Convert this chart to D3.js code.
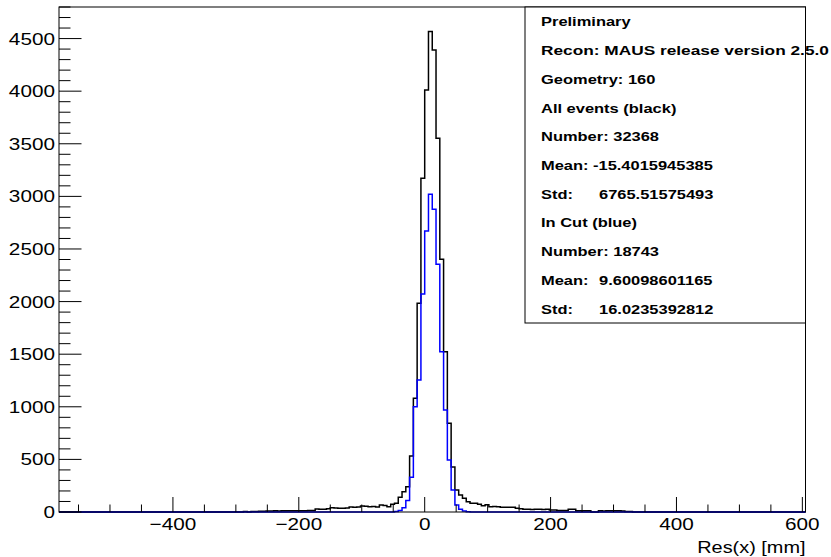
<!DOCTYPE html>
<html>
<head>
<meta charset="utf-8">
<script src="https://cdn.jsdelivr.net/npm/d3@7"></script>
<style>
  html, body { margin: 0; padding: 0; background: #fff; }
  svg { display: block; }
</style>
</head>
<body>
<svg id="chart" width="831" height="557"></svg>
<script>
// ---------------- DATA ----------------
const xLimits = [-581, 605];          // axis range (mm)
const yLimits = [0, 4800];            // axis range (counts)
const binWidth = 6;                   // mm
const histStart = -582;               // low edge of first histogram bin
const histEnd = 606;                  // high edge of last histogram bin

// All events (black): counts for bins starting at allFirstEdge
const allFirstEdge = -288;
const allCounts = [
  4, 0, 5, 4, 8, 6, 10, 10, 12, 10, 12, 11, 12, 13, 12, 13, 12, 14, 15,
  28, 27, 26, 30, 40, 38, 36, 35, 38, 47, 45, 48, 57, 55, 50, 52, 48, 66, 62, 50, 73,
  83, 140, 193, 240, 532, 1081, 1984, 3172, 4011, 4566, 4392, 3552, 2402, 1524,
  843, 428, 209, 162, 130, 98, 83, 83, 73, 60, 70, 51, 52, 50, 45, 44, 46, 45,
  35, 30, 25, 26, 24, 25, 25, 24, 25, 20, 20, 15, 15, 15, 25, 25, 12, 12, 12, 12,
  0, 0, 12, 10, 12, 12, 12, 12, 10, 5, 4, 0
];

// In cut (blue): counts for bins starting at cutFirstEdge
const cutFirstEdge = -48;
const cutCounts = [
  5, 15, 40, 110, 330, 1000, 1255, 2072, 2671, 3020, 2877, 2355, 1524,
  970, 494, 209, 67, 25, 10, 3
];

const xMajorTicks = [-400, -200, 0, 200, 400, 600];
const xTickLabels = ["\u2212400", "\u2212200", "0", "200", "400", "600"];
const yMajorTicks = [0, 500, 1000, 1500, 2000, 2500, 3000, 3500, 4000, 4500];
const yTickLabels = ["0", "500", "1000", "1500", "2000", "2500", "3000", "3500", "4000", "4500"];
const xTitle = "Res(x) [mm]";

// stats box: label column and value column (value "" = header line)
const statsLabels = [
  "Preliminary", "Recon: MAUS release version 2.5.0", "Geometry: 160",
  "All events (black)", "Number: 32368", "Mean:", "Std:",
  "In Cut (blue)", "Number: 18743", "Mean:", "Std:"
];
const statsValues = [
  "", "", "", "", "", "-15.4015945385", "6765.51575493",
  "", "", "9.60098601165", "16.0235392812"
];

// ---------------- LAYOUT ----------------
const frame = { left: 59, right: 805.5, top: 7, bottom: 512 };
const svg = d3.select("#chart");

const x = d3.scaleLinear().domain(xLimits).range([frame.left, frame.right]);
const y = d3.scaleLinear().domain(yLimits).range([frame.bottom, frame.top]);

const nBins = Math.round((histEnd - histStart) / binWidth);
function fullBins(firstEdge, counts) {
  const arr = new Array(nBins).fill(0);
  const off = Math.round((firstEdge - histStart) / binWidth);
  counts.forEach((c, i) => { arr[off + i] = c; });
  return arr.map((c, i) => ({ lo: histStart + i * binWidth, hi: histStart + (i + 1) * binWidth, c }));
}
const allBins = fullBins(allFirstEdge, allCounts);
const cutBins = fullBins(cutFirstEdge, cutCounts);

function stepPath(bins) {
  const pts = [];
  pts.push([x(bins[0].lo), y(0)]);
  bins.forEach(b => {
    pts.push([x(b.lo), y(b.c)]);
    pts.push([x(b.hi), y(b.c)]);
  });
  pts.push([x(bins[bins.length - 1].hi), y(0)]);
  return d3.line()(pts);
}

svg.append("defs").append("clipPath").attr("id", "clip")
  .append("rect")
  .attr("x", frame.left).attr("y", frame.top)
  .attr("width", frame.right - frame.left).attr("height", frame.bottom - frame.top + 1);

const plot = svg.append("g").attr("clip-path", "url(#clip)");

// ---------- axes / ticks ----------
const axisG = svg.append("g").attr("stroke", "#000").attr("stroke-width", 1).attr("fill", "none");

const xMinor = d3.range(-550, 601, 50).filter(v => !xMajorTicks.includes(v));
xMinor.forEach(v => {
  axisG.append("line").attr("x1", x(v)).attr("x2", x(v))
    .attr("y1", frame.bottom).attr("y2", frame.bottom - 7.5);
});
xMajorTicks.forEach(v => {
  axisG.append("line").attr("x1", x(v)).attr("x2", x(v))
    .attr("y1", frame.bottom).attr("y2", frame.bottom - 15);
});
const yMinor = d3.range(0, 4801, 100).filter(v => !yMajorTicks.includes(v));
yMinor.forEach(v => {
  axisG.append("line").attr("x1", frame.left).attr("x2", frame.left + 11.5)
    .attr("y1", y(v)).attr("y2", y(v));
});
yMajorTicks.forEach(v => {
  axisG.append("line").attr("x1", frame.left).attr("x2", frame.left + 22.5)
    .attr("y1", y(v)).attr("y2", y(v));
});

svg.append("rect")
  .attr("x", frame.left).attr("y", frame.top)
  .attr("width", frame.right - frame.left).attr("height", frame.bottom - frame.top)
  .attr("fill", "none").attr("stroke", "#000").attr("stroke-width", 1);

// ---------- histograms ----------
plot.append("path").attr("d", stepPath(allBins))
  .attr("fill", "none").attr("stroke", "#000").attr("stroke-width", 1.5);
plot.append("path").attr("d", stepPath(cutBins))
  .attr("fill", "none").attr("stroke", "#0000ff").attr("stroke-width", 1.5);

// ---------- tick labels ----------
const font = "'Liberation Sans', Arial, Helvetica, sans-serif";
const sx = 1.22;  // horizontal stretch of the reference picture

const xl = svg.append("g").attr("font-family", font).attr("font-size", 17).attr("fill", "#000");
xMajorTicks.forEach((v, i) => {
  xl.append("text")
    .attr("transform", `translate(${x(v)},${frame.bottom + 18}) scale(${sx},1)`)
    .attr("text-anchor", "middle")
    .text(xTickLabels[i]);
});
const yl = svg.append("g").attr("font-family", font).attr("font-size", 17).attr("fill", "#000");
yMajorTicks.forEach((v, i) => {
  yl.append("text")
    .attr("transform", `translate(${frame.left - 4},${y(v) + 6}) scale(${sx},1)`)
    .attr("text-anchor", "end")
    .text(yTickLabels[i]);
});

svg.append("text")
  .attr("font-family", font).attr("font-size", 17)
  .attr("transform", `translate(${frame.right},${frame.bottom + 41}) scale(1.17,1)`)
  .attr("text-anchor", "end")
  .text(xTitle);

// ---------- stats box ----------
const box = { left: 525, right: 805.5, top: 7, bottom: 323 };
svg.append("rect")
  .attr("x", box.left).attr("y", box.top)
  .attr("width", box.right - box.left).attr("height", box.bottom - box.top)
  .attr("fill", "#fff").attr("stroke", "#000").attr("stroke-width", 1);

const lineH = (box.bottom - box.top) / statsLabels.length;
const st = svg.append("g").attr("font-family", font).attr("font-size", 13.5)
  .attr("font-weight", "bold").attr("fill", "#000");
const valueX = 599;
statsLabels.forEach((s, i) => {
  const ty = box.top + (i + 0.5) * lineH + 5;
  const t = st.append("text")
    .attr("transform", `translate(${box.left + 16},${ty}) scale(${sx},1)`)
    .text(s);
  if (i === 1) t.attr("textLength", 236).attr("lengthAdjust", "spacingAndGlyphs");
  const v = statsValues[i];
  if (v) {
    const neg = v.startsWith("-");
    st.append("text")
      .attr("transform", `translate(${neg ? valueX - 6 : valueX},${ty}) scale(${sx},1)`)
      .text(v);
  }
});
</script>
</body>
</html>
